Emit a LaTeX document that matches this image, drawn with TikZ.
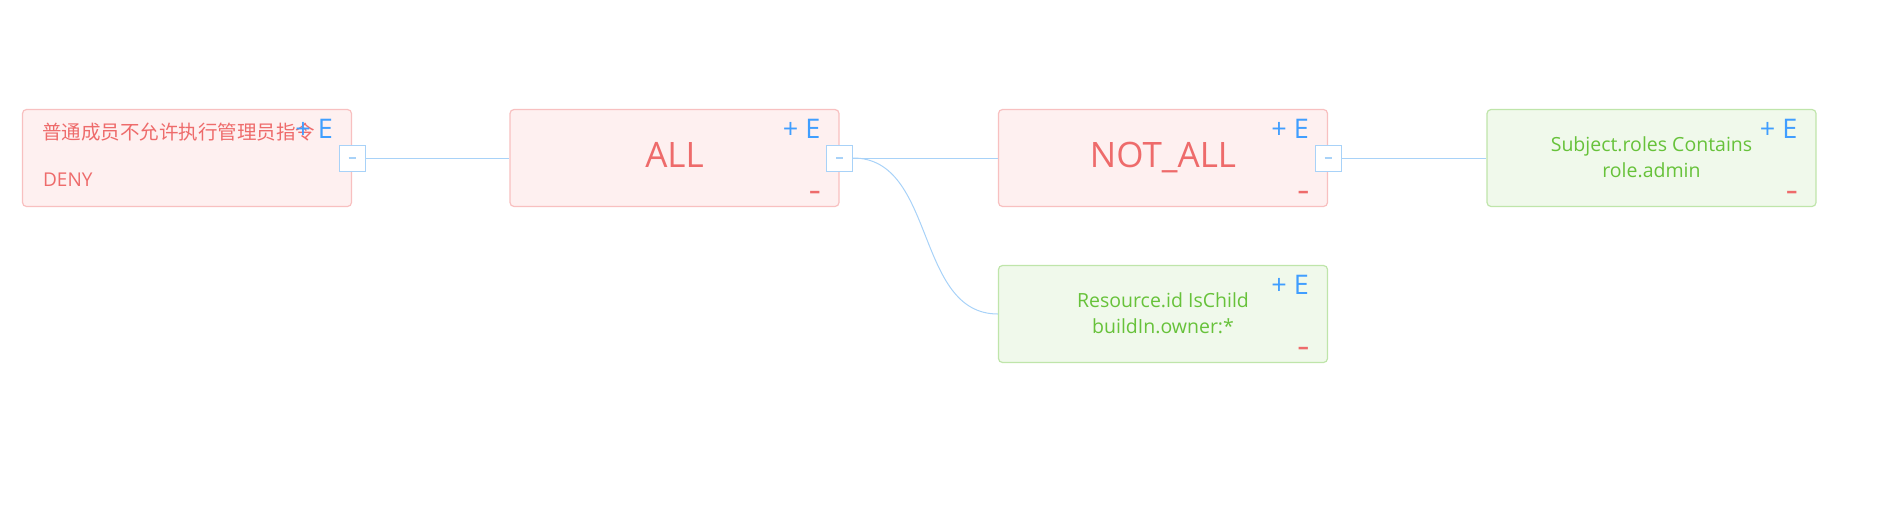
\documentclass[tikz,border=0pt]{standalone}
\usepackage{fontspec}
\setmainfont{Open Sans}
\newfontfamily\cjk{Noto Sans CJK SC}
\usepackage{xcolor}
\usetikzlibrary{positioning, calc}

\definecolor{redfill}{HTML}{FEF0F0}
\definecolor{redline}{HTML}{F8C0C0}
\definecolor{redtext}{HTML}{EE6B6B}
\definecolor{greenfill}{HTML}{F0F9EB}
\definecolor{greenline}{HTML}{BFE5AA}
\definecolor{greentext}{HTML}{67C23A}
\definecolor{opblue}{HTML}{409EFF}
\definecolor{linkblue}{HTML}{A8D2F8}

\begin{document}
\begin{tikzpicture}[x=1pt, y=-1pt,
    rule/.style={draw, rounded corners=4pt, line width=1.2pt,
      minimum width=329pt, minimum height=97pt, inner sep=0pt},
    denybox/.style={rule, draw=redline, fill=redfill},
    condbox/.style={rule, draw=greenline, fill=greenfill},
    fold/.style={draw=linkblue, fill=white, line width=1pt,
      minimum size=26pt, inner sep=0pt},
    link/.style={draw=linkblue, line width=1pt},
    ops/.style={font=\fontsize{27}{27}\selectfont, text=opblue,
      anchor=base east, inner sep=0pt},
    del/.style={font=\fontsize{22}{22}\selectfont\bfseries, text=redtext,
      anchor=base east, inner sep=0pt},
    big/.style={font=\fontsize{35}{35}\selectfont, text=redtext,
      anchor=base, inner sep=0pt},
    cond/.style={font=\fontsize{19.5}{26}\selectfont, text=greentext,
      align=center, anchor=base, inner sep=0pt},
  ]
    \useasboundingbox (0,0) rectangle (1887,509);

    % ═══ Rule boxes ═══
    \node[denybox] (deny) at (187,158) {};
    \node[denybox] (all) at (674.5,158) {};
    \node[denybox] (notall) at (1163,158) {};
    \node[condbox] (subjrole) at (1651.5,158) {};
    \node[condbox] (resid) at (1163,314) {};

    % Root rule texts
    \node[anchor=base west, inner sep=0pt, text=redtext,
      font=\cjk\fontsize{19.5}{19.5}\selectfont] (denyname)
      at ($(deny.north west)+(20,31)$) {普通成员不允许执行管理员指令};
    \node[anchor=base west, inner sep=0pt, text=redtext,
      font=\fontsize{19}{19}\selectfont] (denyeffect)
      at ($(deny.north west)+(21,78)$) {DENY};

    % Operators
    \node[big] (alltext) at ($(all.center)+(0,9.5)$) {ALL};
    \node[big] (notalltext) at ($(notall.center)+(0,9.5)$) {NOT\_ALL};

    % Conditions (base = last line)
    \node[cond] (subjtext) at ($(subjrole.center)+(0,19)$)
      {Subject.roles Contains\\role.admin};
    \node[cond] (residtext) at ($(resid.center)+(0,19)$)
      {Resource.id IsChild\\buildIn.owner:*};

    % "+ E" and "-" controls
    \foreach \b in {deny, all, notall, subjrole, resid} {
      \node[ops] (\b-add) at ($(\b.north east)+(-19,30)$) {+\hspace{7pt}E};
    }
    \foreach \b in {all, notall, subjrole, resid} {
      \node[del] (\b-del) at ($(\b.south east)+(-19,-8.6)$) {--};
    }

    % Fold squares
    \foreach \b in {deny, all, notall} {
      \node[fold] (\b-fold) at (\b.east)
        {\textcolor{linkblue}{\rule{7pt}{1.2pt}}};
    }

    % ═══ Links ═══
    \draw[link] (deny-fold.east) -- (all.west);
    \draw[link] (all-fold.east) -- (notall.west);
    \draw[link] (all-fold.east) to[out=0, in=180] (resid.west);
    \draw[link] (notall-fold.east) -- (subjrole.west);
  \end{tikzpicture}
\end{document}
